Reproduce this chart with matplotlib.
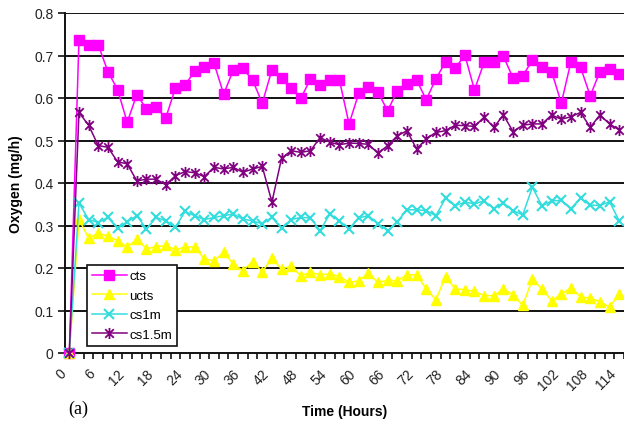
import matplotlib
matplotlib.use("Agg")
import matplotlib.pyplot as plt
from matplotlib.path import Path
from matplotlib.transforms import ScaledTranslation
import numpy as np

plt.rcParams['font.family'] = ['Liberation Sans', 'DejaVu Sans']

hours = list(range(0, 116, 2))

cts = [0, 0.737, 0.725, 0.725, 0.662, 0.620, 0.543, 0.608, 0.574, 0.578, 0.553,
       0.624, 0.631, 0.663, 0.674, 0.682, 0.609, 0.666, 0.670, 0.642, 0.588,
       0.666, 0.647, 0.623, 0.599, 0.645, 0.631, 0.642, 0.642, 0.539, 0.611,
       0.625, 0.613, 0.570, 0.617, 0.633, 0.642, 0.596, 0.645, 0.685, 0.670,
       0.701, 0.619, 0.684, 0.685, 0.698, 0.647, 0.652, 0.689, 0.674, 0.662,
       0.588, 0.685, 0.672, 0.605, 0.662, 0.668, 0.656]

ucts = [0, 0.315, 0.270, 0.282, 0.275, 0.264, 0.249, 0.268, 0.245, 0.250, 0.253,
        0.243, 0.249, 0.250, 0.221, 0.217, 0.237, 0.209, 0.194, 0.215, 0.191,
        0.223, 0.198, 0.204, 0.182, 0.190, 0.184, 0.186, 0.180, 0.166, 0.170,
        0.188, 0.166, 0.171, 0.170, 0.184, 0.184, 0.151, 0.125, 0.180, 0.151,
        0.149, 0.145, 0.135, 0.135, 0.151, 0.137, 0.112, 0.173, 0.151, 0.123,
        0.139, 0.153, 0.132, 0.129, 0.121, 0.108, 0.139]

cs1m = [0, 0.353, 0.314, 0.307, 0.319, 0.293, 0.309, 0.323, 0.292, 0.319, 0.311,
        0.296, 0.333, 0.323, 0.314, 0.319, 0.323, 0.327, 0.315, 0.311, 0.304,
        0.319, 0.293, 0.314, 0.319, 0.318, 0.288, 0.327, 0.311, 0.292, 0.318,
        0.323, 0.304, 0.288, 0.309, 0.337, 0.337, 0.335, 0.323, 0.364, 0.347,
        0.355, 0.351, 0.358, 0.340, 0.353, 0.335, 0.325, 0.390, 0.346, 0.358,
        0.359, 0.340, 0.364, 0.348, 0.347, 0.356, 0.311]

cs15m = [0, 0.566, 0.536, 0.488, 0.484, 0.450, 0.445, 0.405, 0.409, 0.409, 0.396,
         0.417, 0.427, 0.424, 0.415, 0.437, 0.433, 0.437, 0.425, 0.433, 0.439,
         0.355, 0.458, 0.476, 0.472, 0.476, 0.507, 0.496, 0.490, 0.494, 0.493,
         0.491, 0.470, 0.488, 0.511, 0.523, 0.480, 0.504, 0.519, 0.523, 0.536,
         0.535, 0.533, 0.555, 0.531, 0.560, 0.521, 0.536, 0.539, 0.539, 0.560,
         0.550, 0.556, 0.566, 0.531, 0.560, 0.539, 0.525]

labels = ['cts', 'ucts', 'cs1m', 'cs1.5m']
label_hours = list(range(0, 115, 6))
yticks = [0, 0.1, 0.2, 0.3, 0.4, 0.5, 0.6, 0.7, 0.8]

star = Path([(-1, -1), (1, 1), (-1, 1), (1, -1), (0, -1.3), (0, 1.3)],
            [Path.MOVETO, Path.LINETO, Path.MOVETO, Path.LINETO, Path.MOVETO, Path.LINETO])

fig = plt.figure(figsize=(6.24, 4.27), dpi=100)
ax = fig.add_axes([64.5 / 624, 73 / 427, 559.5 / 624, 340 / 427])

for y in yticks[1:]:
    ax.axhline(y, color='#111111', lw=1.4, zorder=1)

ax.plot(hours, cts, color='#FF00FF', lw=1.1, marker='s', ms=7, mec='#FF00FF',
        mfc='#FF00FF', label=labels[0], zorder=3, clip_on=False)
ax.plot(hours, ucts, color='#FFFF00', lw=1.1, marker='^', ms=7.5, mec='#FFFF00',
        mfc='#FFFF00', label=labels[1], zorder=4, clip_on=False)
ax.plot(hours, cs1m, color='#33DDDD', lw=1.1, marker='x', ms=7, mew=1.5,
        mec='#33DDDD', label=labels[2], zorder=5, clip_on=False)
ax.plot(hours, cs15m, color='#800080', lw=1.1, marker=star, ms=8, mew=1.3,
        mec='#800080', label=labels[3], zorder=6, clip_on=False)

ax.set_xlim(-1, -1 + 559.5 / 4.835)
ax.set_ylim(0, 0.8)

ax.set_yticks(yticks)
ax.set_yticklabels(['0' if v == 0 else f'{v:.1f}' for v in yticks], fontsize=10, color='#222222')
ax.tick_params(axis='y', direction='out', length=5, width=1.2, color='#111111', pad=3)

ax.set_xticks(np.arange(-1, 116, 2))
ax.set_xticklabels([])
ax.tick_params(axis='x', which='major', direction='out', length=4, width=1.2, color='#111111')
ax.set_xticks(label_hours, minor=True)
ax.set_xticklabels([str(h) for h in label_hours], minor=True, rotation=45,
                   ha='right', va='center', rotation_mode='anchor', fontsize=10, color='#222222')
ax.tick_params(axis='x', which='minor', length=0, pad=13)
shift = ScaledTranslation(-5 / 100, 0, fig.dpi_scale_trans)
for lab in ax.get_xticklabels(minor=True):
    lab.set_transform(lab.get_transform() + shift)

for s in ['right', 'top']:
    ax.spines[s].set_visible(False)
ax.spines['left'].set_linewidth(1.4)
ax.spines['bottom'].set_linewidth(1.4)
ax.spines['left'].set_color('#111111')
ax.spines['bottom'].set_color('#111111')

ax.set_ylabel('Oxygen (mg/h)', fontsize=10, fontweight='bold', labelpad=8)
fig.text(345 / 624, 1 - 412 / 427, 'Time (Hours)', fontsize=10, fontweight='bold',
         ha='center', va='center')
fig.text(68 / 624, 1 - 409 / 427, '(a)', fontsize=13, family='Liberation Serif',
         ha='left', va='center')

leg = ax.legend(loc='lower left', bbox_to_anchor=((87 - 64.5) / 559.5, 7 / 340),
                borderaxespad=0, fontsize=9.5, frameon=True, fancybox=False,
                edgecolor='#111111', handlelength=2.6, labelspacing=0.55,
                handletextpad=0.2, borderpad=0.4, framealpha=1)
leg.get_frame().set_linewidth(1.2)
leg.set_zorder(10)

fig.savefig('out.png', dpi=100)
